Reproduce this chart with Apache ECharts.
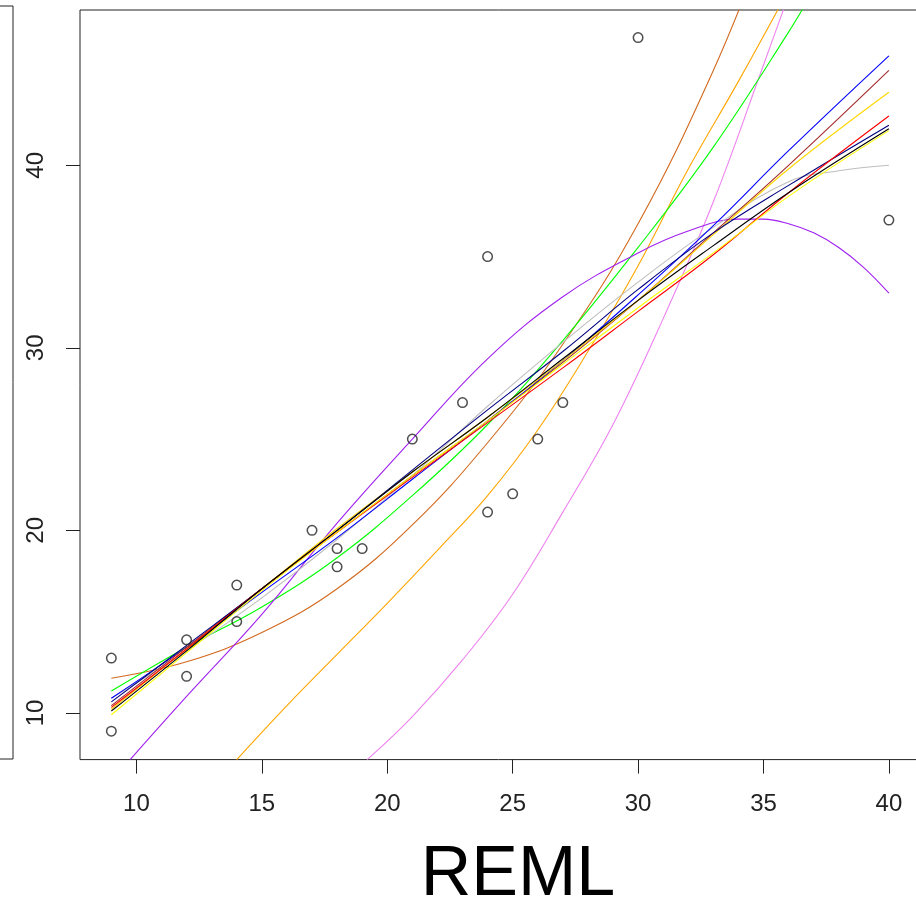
<!DOCTYPE html>
<html>
<head>
<meta charset="utf-8">
<script src="https://cdn.jsdelivr.net/npm/echarts@6/dist/echarts.min.js"></script>
<style>
  html, body { margin: 0; padding: 0; background: #fff; }
  #chart { width: 916px; height: 901px; }
</style>
</head>
<body>
<div id="chart"></div>
<script>
// Axis ticks
const xTicks = [10, 15, 20, 25, 30, 35, 40];
const yTicks = [10, 20, 30, 40];

// Observed values
const obsX = [9, 9, 12, 12, 14, 14, 17, 18, 18, 19, 21, 23, 24, 24, 25, 26, 27, 30, 40];
const obsY = [13, 9, 14, 12, 17, 15, 20, 19, 18, 19, 25, 27, 35, 21, 22, 25, 27, 47, 37];

// Fitted curves, one [x, y] list per fit
const fitChocolate = [[9, 11.9], [12, 12.8], [15, 14.4], [18, 16.8], [21, 20.3], [24, 24.8], [27, 30.2], [30, 36.8], [33, 45.2], [35, 52.0]];
const fitOrange = [[14, 7.44], [16, 10.4], [18, 13.2], [20, 16.0], [22, 18.9], [24, 21.9], [26, 25.5], [28, 29.8], [30, 34.5], [32, 39.8], [34, 44.6], [36, 49.6]];
const fitViolet = [[19.2, 7.44], [21, 9.8], [23, 12.9], [25, 16.5], [27, 21.0], [29, 25.8], [31, 31.6], [33, 38.0], [35, 45.5], [36, 49.3]];
const fitGreen = [[9, 11.2], [12, 13.6], [15, 15.8], [18, 18.5], [21, 21.9], [24, 25.8], [27, 30.4], [30, 35.5], [33, 41.0], [36, 47.3], [37, 49.6]];
const fitPurple = [[9.75, 7.44], [12, 10.9], [15, 15.4], [18, 20.4], [21, 25.0], [24, 29.4], [27, 32.8], [30, 35.2], [32, 36.4], [34, 37.05], [35, 37.05], [36, 36.8], [37, 36.3], [38, 35.5], [39, 34.4], [40, 33.0]];
const fitGray = [[9, 10.8], [12, 13.4], [15, 16.3], [18, 19.5], [21, 23.0], [24, 26.8], [27, 30.3], [30, 33.6], [33, 36.6], [36, 39.1], [38, 39.7], [40, 40.0]];
const fitBlue = [[9, 10.8], [12, 13.6], [15, 16.6], [18, 19.6], [21, 22.8], [24, 26.0], [27, 29.3], [30, 32.9], [33, 36.7], [36, 40.8], [40, 46.0]];
const fitBrown = [[9, 10.4], [12, 13.6], [15, 16.8], [18, 19.9], [21, 23.0], [24, 26.0], [27, 29.2], [30, 32.6], [33, 36.3], [36, 40.0], [40, 45.2]];
const fitGold = [[9, 10.2], [12, 13.5], [15, 16.8], [18, 20.1], [21, 23.2], [24, 26.2], [27, 29.3], [30, 32.6], [33, 36.2], [36, 39.8], [40, 44.0]];
const fitNavy = [[9, 10.6], [12, 13.7], [15, 16.8], [18, 20.0], [21, 23.3], [24, 26.6], [27, 29.8], [30, 33.2], [33, 36.3], [36, 38.9], [40, 42.2]];
const fitRed = [[9, 10.3], [12, 13.5], [15, 16.8], [18, 19.9], [21, 22.9], [24, 25.9], [27, 28.9], [30, 32.0], [33, 35.1], [36, 38.5], [40, 42.7]];
const fitYellow = [[9, 9.9], [12, 13.3], [15, 16.7], [18, 19.9], [21, 23.0], [24, 26.0], [27, 29.1], [30, 32.2], [33, 35.2], [36, 38.3], [40, 41.9]];
const fitBlack = [[9, 10.1], [12, 13.4], [15, 16.8], [18, 20.0], [21, 23.2], [24, 26.2], [27, 29.4], [30, 32.6], [33, 35.6], [36, 38.5], [40, 42.0]];

const fits = [
  { data: fitChocolate, color: '#D2691E' },
  { data: fitOrange, color: '#FFA500' },
  { data: fitViolet, color: '#EE82EE' },
  { data: fitGreen, color: '#00FF00' },
  { data: fitPurple, color: '#A020F0' },
  { data: fitGray, color: '#BEBEBE' },
  { data: fitBlue, color: '#0000FF' },
  { data: fitBrown, color: '#A52A2A' },
  { data: fitGold, color: '#FFD700' },
  { data: fitNavy, color: '#000080' },
  { data: fitRed, color: '#FF0000' },
  { data: fitYellow, color: '#FFFF00' },
  { data: fitBlack, color: '#000000' }
];

const FONT = 'Liberation Sans, Arial, sans-serif';
const chart = echarts.init(document.getElementById('chart'), null, { renderer: 'canvas' });

const lineSeries = fits.map((f, i) => ({
  type: 'line',
  xAxisIndex: 0,
  yAxisIndex: 0,
  data: f.data,
  showSymbol: false,
  smooth: 0.4,
  clip: true,
  silent: true,
  z: 2 + i * 0.01,
  lineStyle: { color: f.color, width: 1.1 }
}));

chart.setOption({
  animation: false,
  backgroundColor: '#fff',
  title: {
    text: 'REML',
    left: 513,
    top: 836,
    textAlign: 'center',
    textStyle: { fontFamily: FONT, fontSize: 70, fontWeight: 'normal', color: '#000' }
  },
  grid: [
    {
      left: 80, top: 10, width: 840, height: 749.6,
      outerBoundsMode: 'none', containLabel: false,
      show: true, borderColor: '#222', borderWidth: 1, backgroundColor: 'transparent'
    },
    {
      left: -200, top: 6, width: 213, height: 753,
      outerBoundsMode: 'none', containLabel: false,
      show: true, borderColor: '#222', borderWidth: 1, backgroundColor: 'transparent'
    }
  ],
  xAxis: [
    {
      type: 'value', gridIndex: 0, min: 7.75, max: 41.24,
      axisLine: { show: false },
      splitLine: { show: false },
      axisTick: { show: true, length: 14, customValues: xTicks, lineStyle: { color: '#222', width: 1 } },
      axisLabel: { customValues: xTicks, margin: 33, fontFamily: FONT, fontSize: 24, color: '#222' }
    },
    { type: 'value', gridIndex: 1, show: false }
  ],
  yAxis: [
    {
      type: 'value', gridIndex: 0, min: 7.44, max: 48.51,
      axisLine: { show: false },
      splitLine: { show: false },
      axisTick: { show: true, length: 14, customValues: yTicks, lineStyle: { color: '#222', width: 1 } },
      axisLabel: { customValues: yTicks, rotate: 90, margin: 32, fontFamily: FONT, fontSize: 24, color: '#222' }
    },
    { type: 'value', gridIndex: 1, show: false }
  ],
  series: [
    ...lineSeries,
    {
      type: 'scatter',
      xAxisIndex: 0,
      yAxisIndex: 0,
      data: obsX.map((x, i) => [x, obsY[i]]),
      symbol: 'circle',
      symbolSize: 9.5,
      silent: true,
      z: 3,
      itemStyle: { color: 'rgba(0,0,0,0)', borderColor: '#222', borderWidth: 1.5 }
    }
  ]
});
</script>
</body>
</html>
